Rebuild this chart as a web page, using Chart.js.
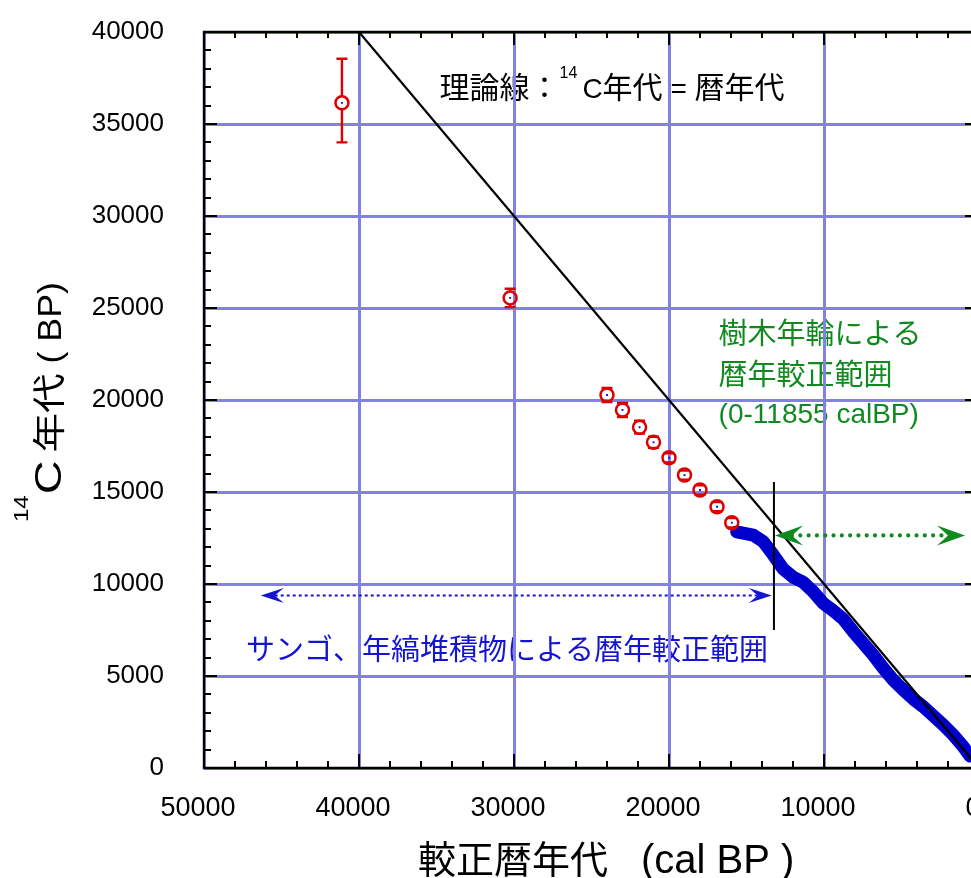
<!DOCTYPE html>
<html>
<head>
<meta charset="utf-8">
<script src="https://cdn.jsdelivr.net/npm/chart.js@4.4.1/dist/chart.umd.min.js"></script>
<style>
  html, body { margin: 0; padding: 0; background: #fff; overflow: hidden; }
  #wrap { width: 1000px; height: 878px; }
</style>
</head>
<body>
<div id="wrap"><canvas id="c" width="1000" height="878"></canvas></div>
<script>
// ---- data -------------------------------------------------------------
// 14C ages (BP) against calibrated ages (cal BP)

// dated samples with error bars (red circles)
const calRed  = [41100, 30250, 24000, 23000, 21900, 21000, 20000, 19000, 18000, 16900, 15950];
const c14Red  = [36150, 25550, 20270, 19460, 18520, 17700, 16860, 15920, 15110, 14200, 13330];
const errUp   = [2400, 500, 380, 380, 350, 300, 250, 250, 250, 250, 250];
const errDown = [2150, 500, 380, 380, 350, 300, 250, 250, 250, 250, 250];

// dense calibration record (blue band)
const calBand = [15630, 14560, 13920, 13270, 12630, 11980, 11340, 10690, 10050, 9400, 8760, 8110,
                 7470, 6820, 6170, 5530, 4880, 4240, 3590, 2950, 2300, 1660, 1010, 580];
const c14Band = [12830, 12660, 12300, 11580, 10820, 10370, 10090, 9580, 8950, 8550, 8100, 7410,
                 6780, 6140, 5420, 4780, 4240, 3750, 3330, 2840, 2340, 1790, 1160, 650];

// theoretical line: 14C age = calendar age
const theoryCal = [40000, 0];
const theoryC14 = [40000, 0];

// limit of the tree-ring calibration
const limitCal = [13230, 13230];
const limitC14 = [15540, 7500];

// range arrows
const treeRingArrow = { from: 13160, to: 900, at: 12640 };
const coralArrow    = { from: 46340, to: 13370, at: 9375 };

// axes
const xTicks = [0, 10000, 20000, 30000, 40000, 50000];
const yTicks = [0, 5000, 10000, 15000, 20000, 25000, 30000, 35000, 40000];

// ---- styles -----------------------------------------------------------
const LATIN = "'Liberation Sans', Arial, 'Noto Sans CJK JP', sans-serif";
const GRID = '#8282e6';
const RED = '#dd0000';
const BLUE = '#0000cc';
const GREEN = '#108a1e';
const TEXT_BLUE = '#1414d2';

const pts = (xs, ys) => xs.map((x, i) => ({ x, y: ys[i] }));

// draws text pieces one after another; sx stretches a piece along the run
function drawRun(ctx, segs, x, y) {
  for (const s of segs) {
    const sx = s.sx || 1;
    ctx.font = s.font;
    x += s.gap || 0;
    ctx.save();
    ctx.translate(x, y + (s.dy || 0));
    ctx.scale(sx, 1);
    ctx.fillText(s.t, 0, 0);
    ctx.restore();
    x += ctx.measureText(s.t).width * sx;
  }
  return x;
}

function arrowHead(ctx, tipX, y, dir, len, half, notch) {
  ctx.beginPath();
  ctx.moveTo(tipX, y);
  ctx.lineTo(tipX + dir * len, y - half);
  ctx.lineTo(tipX + dir * notch, y);
  ctx.lineTo(tipX + dir * len, y + half);
  ctx.closePath();
  ctx.fill();
}

function doubleArrow(ctx, chart, a, style) {
  const xs = chart.scales.x, ys = chart.scales.y;
  const x1 = xs.getPixelForValue(a.from), x2 = xs.getPixelForValue(a.to);
  const y = ys.getPixelForValue(a.at);
  ctx.save();
  ctx.strokeStyle = style.color;
  ctx.fillStyle = style.color;
  ctx.lineWidth = style.width;
  ctx.lineCap = style.cap;
  ctx.setLineDash(style.dash);
  ctx.beginPath();
  ctx.moveTo(x1 + style.notch, y);
  ctx.lineTo(x2 - style.notch, y);
  ctx.stroke();
  ctx.setLineDash([]);
  arrowHead(ctx, x1, y, 1, style.len, style.half, style.notch);
  arrowHead(ctx, x2, y, -1, style.len, style.half, style.notch);
  ctx.restore();
}

// text notes sit underneath the grid
const notesPlugin = {
  id: 'notes',
  beforeDraw(chart) {
    const ctx = chart.ctx, xs = chart.scales.x, ys = chart.scales.y;
    if (!xs || !ys) return;
    ctx.save();
    ctx.textBaseline = 'alphabetic';
    ctx.textAlign = 'left';
    // theoretical line label
    ctx.fillStyle = '#000';
    drawRun(ctx, [
      { t: '理論線：', font: "30px " + LATIN },
      { t: '14', font: "16px " + LATIN, dy: -20 },
      { t: 'C', font: "28px " + LATIN, gap: 5 },
      { t: '年代', font: "30px " + LATIN },
      { t: ' = ', font: "28px " + LATIN },
      { t: '暦年代', font: "30px " + LATIN }
    ], xs.getPixelForValue(34800), ys.getPixelForValue(36400));
    // tree-ring range label
    ctx.fillStyle = GREEN;
    const gx = xs.getPixelForValue(16800);
    ctx.font = "29px " + LATIN;
    ctx.fillText('樹木年輪による', gx, ys.getPixelForValue(23040));
    ctx.fillText('暦年較正範囲', gx, ys.getPixelForValue(20810));
    ctx.font = "28px " + LATIN;
    ctx.fillText('(0-11855 calBP)', gx, ys.getPixelForValue(18750));
    // coral / varve range label
    ctx.fillStyle = TEXT_BLUE;
    ctx.font = "29px " + LATIN;
    ctx.fillText('サンゴ、年縞堆積物による暦年較正範囲', xs.getPixelForValue(47290), ys.getPixelForValue(5870));
    ctx.restore();
  }
};

// error bars for the dated samples, leaving the circle interior clear
const errorBarPlugin = {
  id: 'errorBars',
  afterDatasetDraw(chart, args) {
    if (chart.data.datasets[args.index].id !== 'samples') return;
    const ctx = chart.ctx, xs = chart.scales.x, ys = chart.scales.y;
    const r = 6.5, cap = 5.5;
    ctx.save();
    ctx.strokeStyle = RED;
    ctx.lineWidth = 2.4;
    calRed.forEach((c, i) => {
      const px = xs.getPixelForValue(c);
      const py = ys.getPixelForValue(c14Red[i]);
      const hi = ys.getPixelForValue(c14Red[i] + errUp[i]);
      const lo = ys.getPixelForValue(c14Red[i] - errDown[i]);
      ctx.beginPath();
      if (hi < py - r) { ctx.moveTo(px, hi); ctx.lineTo(px, py - r); }
      if (lo > py + r) { ctx.moveTo(px, py + r); ctx.lineTo(px, lo); }
      ctx.moveTo(px - cap, hi); ctx.lineTo(px + cap, hi);
      ctx.moveTo(px - cap, lo); ctx.lineTo(px + cap, lo);
      ctx.stroke();
    });
    ctx.restore();
  }
};

// frame, inward ticks, arrows and axis titles
const framePlugin = {
  id: 'frame',
  afterDraw(chart) {
    const ctx = chart.ctx, xs = chart.scales.x, ys = chart.scales.y;
    const { left, right, top, bottom } = chart.chartArea;
    doubleArrow(ctx, chart, treeRingArrow, { color: GREEN, width: 4.2, cap: 'round', dash: [0, 8.3], len: 28, half: 10, notch: 17 });
    doubleArrow(ctx, chart, coralArrow, { color: TEXT_BLUE, width: 2, cap: 'butt', dash: [3, 3], len: 23, half: 7.5, notch: 14 });

    ctx.save();
    ctx.strokeStyle = '#000';
    ctx.lineWidth = 2.4;
    ctx.beginPath();
    ctx.rect(left, top, right - left, bottom - top);
    ctx.stroke();
    ctx.lineWidth = 2;
    ctx.beginPath();
    for (let v = 0; v <= 50000; v += 2000) {
      const px = Math.round(xs.getPixelForValue(v));
      const major = v % 10000 === 0;
      ctx.moveTo(px, bottom); ctx.lineTo(px, bottom - (major ? 14 : 7));
      ctx.moveTo(px, top); ctx.lineTo(px, top + (major ? 13 : 6));
    }
    for (let v = 0; v <= 40000; v += 1000) {
      const py = Math.round(ys.getPixelForValue(v));
      const major = v % 5000 === 0;
      ctx.moveTo(left, py); ctx.lineTo(left + (major ? 13 : 7), py);
      ctx.moveTo(right, py); ctx.lineTo(right - (major ? 14 : 7), py);
    }
    ctx.stroke();
    ctx.restore();

    // y axis title
    ctx.save();
    ctx.fillStyle = '#000';
    ctx.textBaseline = 'alphabetic';
    ctx.translate(61, 522);
    ctx.rotate(-Math.PI / 2);
    drawRun(ctx, [
      { t: '14', font: "20px " + LATIN, dy: -33, sx: 1.2 },
      { t: 'C', font: "36px " + LATIN, gap: 1, sx: 1.3 },
      { t: '年代', font: "33px " + LATIN, gap: 8, sx: 1.2 },
      { t: ' ( BP)', font: "33px " + LATIN, sx: 1.08 }
    ], 0, 0);
    ctx.restore();

    // x axis title
    ctx.save();
    ctx.fillStyle = '#000';
    ctx.textBaseline = 'alphabetic';
    ctx.font = "38px " + LATIN;
    ctx.fillText('較正暦年代', 418, 873);
    ctx.font = "40px " + LATIN;
    ctx.fillText('(cal BP )', 641, 873);
    ctx.restore();
  }
};

new Chart(document.getElementById('c'), {
  type: 'scatter',
  data: {
    datasets: [
      { id: 'theory', data: pts(theoryCal, theoryC14), showLine: true, borderColor: '#000',
        borderWidth: 2.2, pointRadius: 0, order: 0 },
      { id: 'limit', data: pts(limitCal, limitC14), showLine: true, borderColor: '#000',
        borderWidth: 2, pointRadius: 0, order: 1 },
      { id: 'centres', data: pts(calRed, c14Red), pointStyle: 'rect', pointRadius: 1.3,
        backgroundColor: '#0000ff', borderWidth: 0, order: 2 },
      { id: 'samples', data: pts(calRed, c14Red), pointStyle: 'circle', pointRadius: 6.5,
        borderColor: RED, backgroundColor: 'rgba(255,255,255,0)', borderWidth: 2.5, order: 3 },
      { id: 'band', data: pts(calBand, c14Band), showLine: true, borderColor: BLUE,
        borderWidth: 13, borderJoinStyle: 'round', borderCapStyle: 'round', pointRadius: 0, order: 4 }
    ]
  },
  options: {
    responsive: false,
    animation: false,
    devicePixelRatio: 1,
    layout: { padding: { top: 32, right: 21, left: 0, bottom: 0 } },
    plugins: { legend: { display: false }, tooltip: { enabled: false } },
    scales: {
      x: {
        type: 'linear', reverse: true, min: 0, max: 50000,
        afterBuildTicks: s => { s.ticks = xTicks.map(v => ({ value: v })); },
        afterFit: s => { s.height = 110; s.paddingLeft = 0; s.paddingRight = 0; },
        ticks: { color: '#000', font: { family: LATIN, size: 27 }, padding: 24, maxRotation: 0,
                 labelOffset: -6, autoSkip: false, callback: v => String(v) },
        grid: { color: GRID, lineWidth: 3, drawTicks: false },
        border: { display: false }
      },
      y: {
        type: 'linear', min: 0, max: 40000,
        afterBuildTicks: s => { s.ticks = yTicks.map(v => ({ value: v })); },
        afterFit: s => { s.width = 204; s.paddingTop = 0; s.paddingBottom = 0; },
        ticks: { color: '#000', font: { family: LATIN, size: 26 }, padding: 40,
                 autoSkip: false, callback: v => String(v) },
        grid: { color: GRID, lineWidth: 3, drawTicks: false },
        border: { display: false }
      }
    }
  },
  plugins: [notesPlugin, errorBarPlugin, framePlugin]
});
</script>
</body>
</html>
